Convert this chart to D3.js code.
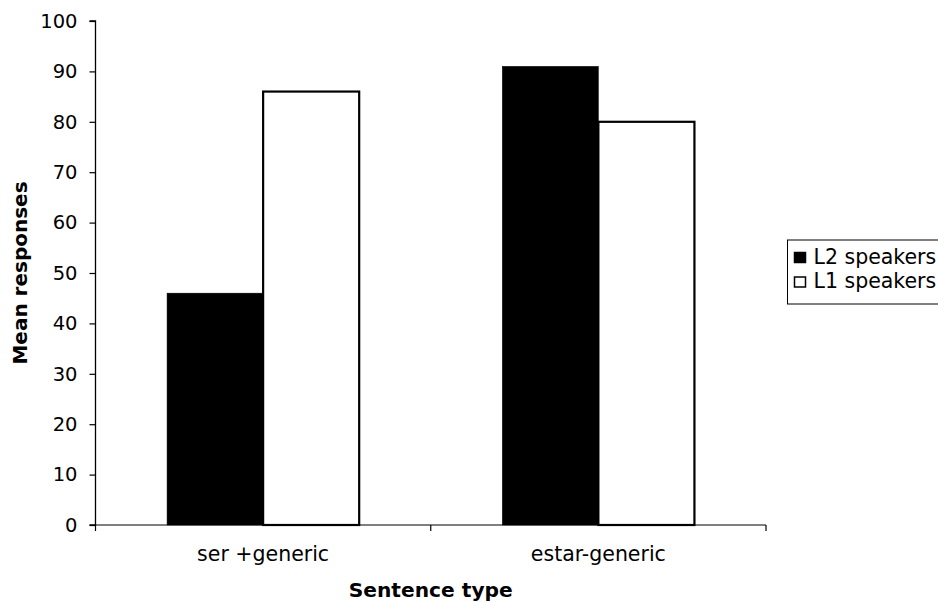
<!DOCTYPE html>
<html>
<head>
<meta charset="utf-8">
<script src="https://cdn.jsdelivr.net/npm/d3@7"></script>
<style>
  html, body { margin: 0; padding: 0; background: #fff; }
  svg { display: block; font-family: "DejaVu Sans", Verdana, sans-serif; }
</style>
</head>
<body>
<svg id="chart" width="938" height="602"></svg>
<script>
// Sentence types on the x axis
const categories = ["ser +generic", "estar-generic"];
// Speaker groups (legend order)
const seriesNames = ["L2 speakers", "L1 speakers"];
// Mean responses per sentence type
const l2Values = [46, 91];
const l1Values = [86, 80];
// y-axis ticks
const yTicks = [0, 10, 20, 30, 40, 50, 60, 70, 80, 90, 100];

const seriesFill = ["#000000", "#ffffff"];
const seriesValues = [l2Values, l1Values];

const svg = d3.select("#chart");
const margin = { left: 95.5, right: 172, top: 21, bottom: 77 };
const W = 938, H = 602;
const x0 = margin.left, x1 = W - margin.right;
const y0 = H - margin.bottom, y1 = margin.top;

const x = d3.scaleBand().domain(categories).range([x0, x1]).paddingInner(0).paddingOuter(0);
const xs = d3.scaleBand().domain(seriesNames).range([0, x.bandwidth()]).paddingOuter(0.745).paddingInner(0);
const y = d3.scaleLinear().domain([0, 100]).range([y0, y1]);

const rows = categories.map((c, i) => ({ cat: c, vals: seriesNames.map((s, j) => ({ s, j, v: seriesValues[j][i] })) }));

// Bars
const g = svg.append("g");
rows.forEach(r => {
  r.vals.forEach(d => {
    const bx = x(r.cat) + xs(d.s);
    g.append("rect")
      .attr("x", bx)
      .attr("y", y(d.v))
      .attr("width", xs.bandwidth())
      .attr("height", y(0) - y(d.v))
      .attr("fill", seriesFill[d.j])
      .attr("stroke", "#000")
      .attr("stroke-width", d.j === 0 ? 0.5 : 2.2);
  });
});

// Y axis
const yAxis = svg.append("g")
  .attr("transform", `translate(${x0},0)`)
  .call(d3.axisLeft(y).tickValues(yTicks).tickSize(6).tickPadding(12).tickFormat(d3.format("d")));
yAxis.select(".domain").attr("stroke", "#000").attr("stroke-width", 1.3).attr("d", `M-6,${y1}H0V${y0}H-6`);
yAxis.selectAll(".tick line").attr("stroke", "#000").attr("stroke-width", 1.2);
yAxis.selectAll(".tick text").attr("font-size", 19.5).attr("fill", "#000").attr("font-family", "DejaVu Sans");

// X axis with tick marks at category boundaries
const xAxisG = svg.append("g").attr("transform", `translate(0,${y0})`);
xAxisG.append("line").attr("x1", x0).attr("x2", x1).attr("y1", 0).attr("y2", 0)
  .attr("stroke", "#000").attr("stroke-width", 1.2);
const boundaries = [x0, ...categories.map(c => x(c) + x.bandwidth())];
xAxisG.selectAll("line.b").data(boundaries).enter().append("line")
  .attr("class", "b").attr("x1", d => d).attr("x2", d => d).attr("y1", 0).attr("y2", 6)
  .attr("stroke", "#000").attr("stroke-width", 1.2);
xAxisG.selectAll("text.c").data(categories).enter().append("text")
  .attr("class", "c")
  .attr("x", d => x(d) + x.bandwidth() / 2)
  .attr("y", 36)
  .attr("text-anchor", "middle")
  .attr("font-size", 20.5)
  .attr("fill", "#000")
  .text(d => d);

// Axis titles
svg.append("text")
  .attr("x", (x0 + x1) / 2).attr("y", 597)
  .attr("text-anchor", "middle")
  .attr("font-size", 20.2).attr("font-weight", "bold")
  .text("Sentence type");
svg.append("text")
  .attr("transform", `translate(27,${(y0 + y1) / 2}) rotate(-90)`)
  .attr("text-anchor", "middle")
  .attr("font-size", 20).attr("font-weight", "bold")
  .text("Mean responses");

// Legend
const leg = svg.append("g").attr("transform", "translate(787.5,240)");
leg.append("rect").attr("x", 0).attr("y", 0).attr("width", 160).attr("height", 64)
  .attr("fill", "#fff").attr("stroke", "#000").attr("stroke-width", 1);
seriesNames.forEach((s, j) => {
  const ly = 12.5 + j * 24.5;
  leg.append("rect").attr("x", 7).attr("y", ly).attr("width", 11).attr("height", 10)
    .attr("fill", seriesFill[j]).attr("stroke", "#000").attr("stroke-width", 1.5);
  leg.append("text").attr("x", 26).attr("y", ly + 11)
    .attr("font-size", 20.5).attr("fill", "#000").text(s);
});
</script>
</body>
</html>
